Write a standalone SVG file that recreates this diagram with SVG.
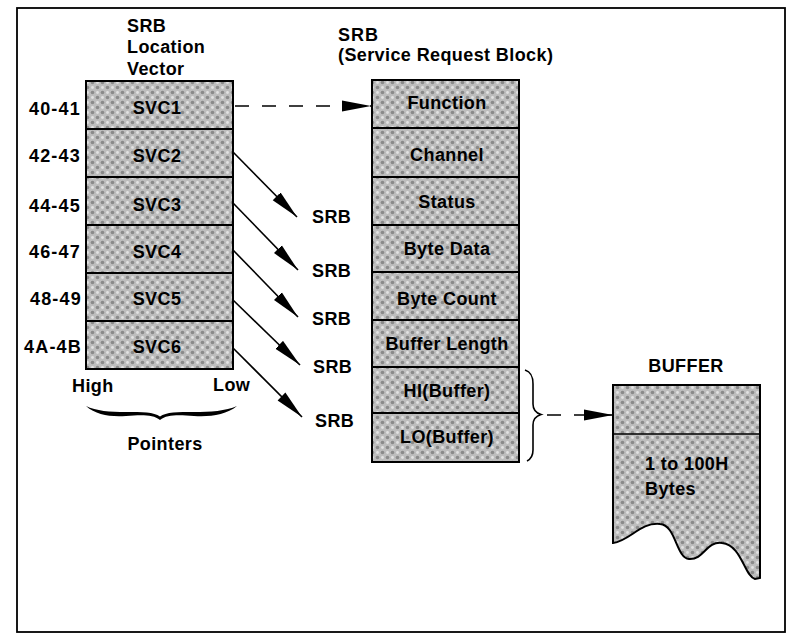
<svg xmlns="http://www.w3.org/2000/svg" width="788" height="637" viewBox="0 0 788 637">
<defs>
<pattern id="dots" width="10" height="10" patternUnits="userSpaceOnUse">
<rect width="10" height="10" fill="#bdbdbd"/>
<circle cx="2.5" cy="2.5" r="1.8" fill="#8a8a8a"/>
<circle cx="7.5" cy="7.5" r="1.8" fill="#8a8a8a"/>
<circle cx="7.5" cy="2.5" r="1.4" fill="#e2e2e2"/>
<circle cx="2.5" cy="7.5" r="1.4" fill="#e2e2e2"/>
</pattern>
<marker id="ah" markerUnits="userSpaceOnUse" markerWidth="30" markerHeight="12" refX="29" refY="6" orient="auto">
<path d="M0,0.5 L29,6 L0,11.5 Z" fill="#000"/>
</marker>
<style>
text{font-family:"Liberation Sans",Arial,sans-serif;font-weight:bold;font-size:18px;fill:#000;letter-spacing:0.4px}
.addr{text-anchor:end;letter-spacing:1.2px}
.c{text-anchor:middle}
.cell{fill:url(#dots);stroke:#000;stroke-width:2}
.ln{stroke:#000;stroke-width:1.6;fill:none}
.dash{stroke-dasharray:14 13}
</style>
</defs>
<rect x="17" y="8" width="768" height="624" fill="#fff" stroke="#000" stroke-width="1.8"/>

<g id="vector-title">
<text x="127" y="32">SRB</text>
<text x="127" y="53">Location</text>
<text x="127" y="75">Vector</text>
</g>
<g id="srb-title">
<text x="338" y="41" style="letter-spacing:1px">SRB</text>
<text x="338" y="61">(Service Request Block)</text>
</g>

<g id="location-vector">
<rect class="cell" x="86" y="81" width="147" height="48"/>
<rect class="cell" x="86" y="129" width="147" height="48"/>
<rect class="cell" x="86" y="177" width="147" height="48"/>
<rect class="cell" x="86" y="225" width="147" height="48"/>
<rect class="cell" x="86" y="273" width="147" height="48"/>
<rect class="cell" x="86" y="321" width="147" height="48"/>
<text class="c" x="157" y="114">SVC1</text>
<text class="c" x="157" y="162">SVC2</text>
<text class="c" x="157" y="211">SVC3</text>
<text class="c" x="157" y="258">SVC4</text>
<text class="c" x="157" y="305">SVC5</text>
<text class="c" x="157" y="353">SVC6</text>
<text class="addr" x="81" y="115">40-41</text>
<text class="addr" x="81" y="162">42-43</text>
<text class="addr" x="81" y="212">44-45</text>
<text class="addr" x="81" y="258">46-47</text>
<text class="addr" x="82" y="305">48-49</text>
<text class="addr" x="82" y="353">4A-4B</text>
<text x="72" y="392">High</text>
<text x="213" y="391">Low</text>
<path d="M86,406 C96,415 110,417 126,416 C142,415 153,414.5 160,420 C167,414.5 178,415 194,416 C210,417 226,415 237,406 C226,411 210,412 194,412 C178,412 166,412 160,416.5 C154,412 142,412 126,412 C110,412 96,411 86,406 Z" fill="#000"/>
<text class="c" x="165" y="450">Pointers</text>
</g>

<g id="srb-block">
<rect class="cell" x="372" y="80" width="147" height="48"/>
<rect class="cell" x="372" y="128" width="147" height="49"/>
<rect class="cell" x="372" y="177" width="147" height="48"/>
<rect class="cell" x="372" y="225" width="147" height="47"/>
<rect class="cell" x="372" y="272" width="147" height="48"/>
<rect class="cell" x="372" y="320" width="147" height="47"/>
<rect class="cell" x="372" y="367" width="147" height="46"/>
<rect class="cell" x="372" y="413" width="147" height="49"/>
<text class="c" x="447" y="109">Function</text>
<text class="c" x="447" y="161">Channel</text>
<text class="c" x="447" y="208">Status</text>
<text class="c" x="447" y="255">Byte Data</text>
<text class="c" x="447" y="305">Byte Count</text>
<text class="c" x="447" y="350">Buffer Length</text>
<text class="c" x="447" y="397">HI(Buffer)</text>
<text class="c" x="447" y="443">LO(Buffer)</text>
<path class="ln" stroke-width="1.3" d="M525,370 C531,372 533,376 533,384 L533,404 C533,410 536,413 541,414.5 C536,416 533,419 533,425 L533,450 C533,456 531,459 527,461"/>
</g>

<g id="srb-labels">
<text x="312" y="223">SRB</text>
<text x="312" y="277">SRB</text>
<text x="312" y="325">SRB</text>
<text x="313" y="373">SRB</text>
<text x="315" y="427">SRB</text>
</g>

<g id="buffer">
<text class="c" x="686" y="372">BUFFER</text>
<path class="cell" d="M613,385 L760,385 L760,578 L755,579 C744,576 742,545 722,543 C706,541 704,560 689,559 C676,558 676,525 660,524 C640,522 630,541 613,543 Z"/>
<line class="ln" stroke-width="2" x1="613" y1="434" x2="760" y2="434"/>
<text x="645" y="470">1 to 100H</text>
<text x="645" y="495">Bytes</text>
</g>

<g id="connectors">
<line class="ln dash" x1="235" y1="106" x2="371" y2="106" marker-end="url(#ah)"/>
<line class="ln" x1="233" y1="152" x2="297" y2="217" marker-end="url(#ah)"/>
<line class="ln" x1="233" y1="203" x2="298" y2="270" marker-end="url(#ah)"/>
<line class="ln" x1="233" y1="250" x2="298" y2="317" marker-end="url(#ah)"/>
<line class="ln" x1="233" y1="300" x2="300" y2="365" marker-end="url(#ah)"/>
<line class="ln" x1="233" y1="348" x2="302" y2="417" marker-end="url(#ah)"/>
<line class="ln dash" x1="547" y1="415" x2="613" y2="415" marker-end="url(#ah)"/>
</g>
</svg>
